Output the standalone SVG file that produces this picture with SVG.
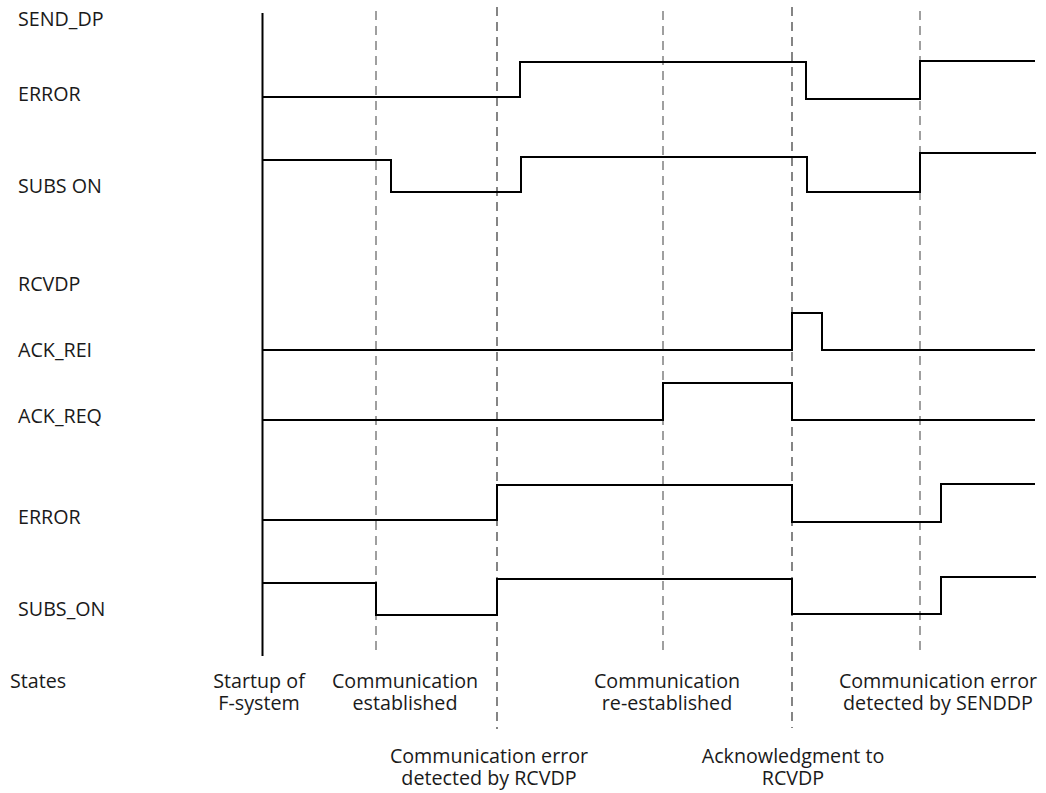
<svg xmlns="http://www.w3.org/2000/svg" width="1046" height="793" viewBox="0 0 1046 793">
<style>
.lbl{font-family:"Open Sans","Noto Sans","Liberation Sans",sans-serif;font-size:19.7px;fill:#1a1a1a}
.c{text-anchor:middle}
.sig{fill:none;stroke:#000;stroke-width:2;stroke-linejoin:miter}
.axis{stroke:#000;stroke-width:2}
.dg{stroke:#777;stroke-width:1.4;stroke-dasharray:9,6}
.dk{stroke:#222;stroke-width:1.1;stroke-dasharray:9,6}
</style>
<rect width="1046" height="793" fill="#fff"/>
<g id="labels">
<text class="lbl" x="18" y="26">SEND_DP</text>
<text class="lbl" x="18" y="101">ERROR</text>
<text class="lbl" x="18" y="193">SUBS ON</text>
<text class="lbl" x="18" y="291">RCVDP</text>
<text class="lbl" x="18" y="357">ACK_REI</text>
<text class="lbl" x="18" y="423">ACK_REQ</text>
<text class="lbl" x="18" y="524">ERROR</text>
<text class="lbl" x="18" y="616">SUBS_ON</text>
<text class="lbl" x="10" y="688">States</text>
</g>
<g id="markers">
<line class="axis" x1="262.5" y1="13" x2="262.5" y2="656"/>
<line class="dg" x1="376" y1="11" x2="376" y2="655"/>
<line class="dk" x1="497" y1="7" x2="497" y2="729"/>
<line class="dg" x1="663" y1="11" x2="663" y2="655"/>
<line class="dk" x1="792" y1="7" x2="792" y2="728"/>
<line class="dg" x1="920" y1="11" x2="920" y2="655"/>
</g>
<g id="connectors">
<path id="send-error" class="sig" d="M262,97 H520 V62 H806 V99 H920 V61 H1035"/>
<path id="send-subson" class="sig" d="M262,160 H391 V192 H521 V157 H807 V192 H920 V153 H1036"/>
<path id="ack-rei" class="sig" d="M262,350 H792 V313 H822 V350 H1035"/>
<path id="ack-req" class="sig" d="M262,420 H663 V383 H792 V420 H1035"/>
<path id="rcv-error" class="sig" d="M262,520 H497 V485 H792 V522 H941 V484 H1035"/>
<path id="rcv-subson" class="sig" d="M262,583 H376 V615 H497 V579 H792 V614 H941 V577 H1036"/>
</g>
<g id="states">
<text id="st-startup" class="lbl c" x="259" y="688">Startup of<tspan x="259" dy="22">F-system</tspan></text>
<text id="st-established" class="lbl c" x="405" y="688">Communication<tspan x="405" dy="22">established</tspan></text>
<text id="st-reestablished" class="lbl c" x="667" y="688">Communication<tspan x="667" dy="22">re-established</tspan></text>
<text id="st-senddp" class="lbl c" x="938" y="688">Communication error<tspan x="938" dy="22">detected by SENDDP</tspan></text>
<text id="st-rcvdp" class="lbl c" x="489" y="763">Communication error<tspan x="489" dy="22">detected by RCVDP</tspan></text>
<text id="st-ack" class="lbl c" x="793" y="763">Acknowledgment to<tspan x="793" dy="22">RCVDP</tspan></text>
</g>
</svg>
